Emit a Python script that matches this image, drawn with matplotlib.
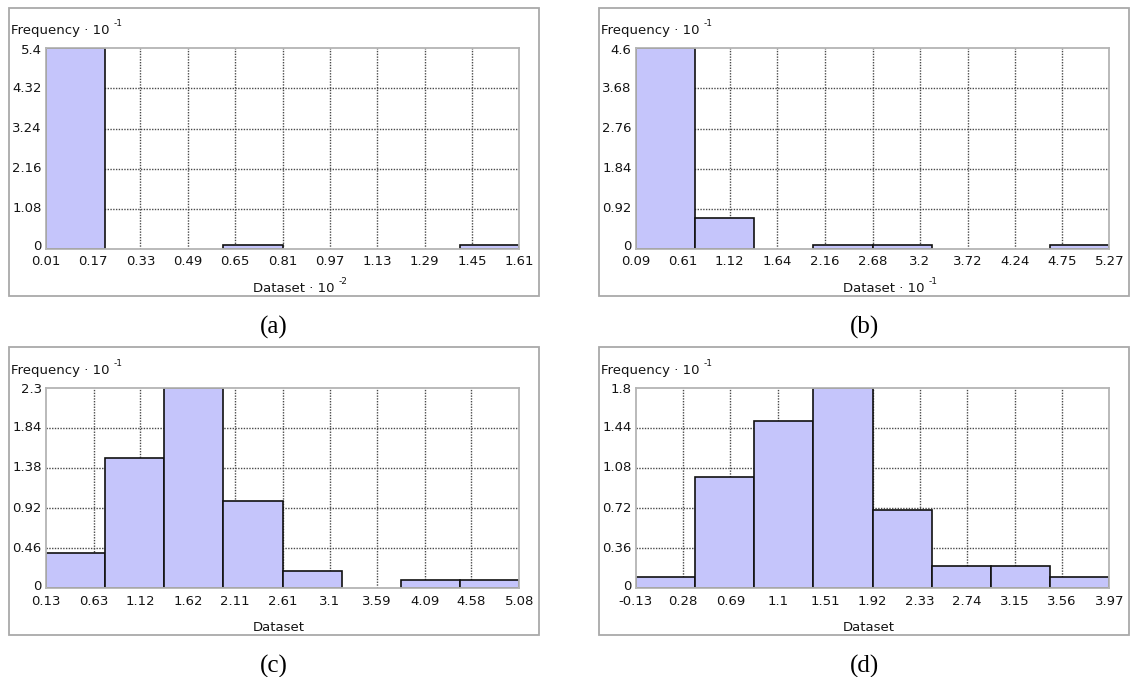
import numpy as np
import matplotlib
matplotlib.use("Agg")
import matplotlib.pyplot as plt
from matplotlib.patches import Rectangle

plt.rcParams["font.family"] = ["DejaVu Sans"]

# x tick values, y tick values and bar heights (frequency x 10^-1), 8 bins each
a_xticks = [0.01, 0.17, 0.33, 0.49, 0.65, 0.81, 0.97, 1.13, 1.29, 1.45, 1.61]
a_yticks = [0, 1.08, 2.16, 3.24, 4.32, 5.4]
a_heights = [5.4, 0, 0, 0.1, 0, 0, 0, 0.1]

b_xticks = [0.09, 0.61, 1.12, 1.64, 2.16, 2.68, 3.2, 3.72, 4.24, 4.75, 5.27]
b_yticks = [0, 0.92, 1.84, 2.76, 3.68, 4.6]
b_heights = [4.6, 0.7, 0, 0.1, 0.1, 0, 0, 0.1]

c_xticks = [0.13, 0.63, 1.12, 1.62, 2.11, 2.61, 3.1, 3.59, 4.09, 4.58, 5.08]
c_yticks = [0, 0.46, 0.92, 1.38, 1.84, 2.3]
c_heights = [0.4, 1.5, 2.3, 1.0, 0.2, 0, 0.1, 0.1]

d_xticks = [-0.13, 0.28, 0.69, 1.1, 1.51, 1.92, 2.33, 2.74, 3.15, 3.56, 3.97]
d_yticks = [0, 0.36, 0.72, 1.08, 1.44, 1.8]
d_heights = [0.1, 1.0, 1.5, 1.8, 0.7, 0.2, 0.2, 0.1]

panel_names = ["(a)", "(b)", "(c)", "(d)"]
x_exponents = ["-2", "-1", None, None]

W, H = 1130, 677
fig = plt.figure(figsize=(W / 100, H / 100), dpi=100)


def fx(px):
    return px / W


def fy(py):
    return 1 - py / H


BAR_COLOR = "#c5c5fb"
TXT = "#141414"
GRID = "#4a4a4a"


def draw_panel(left, top, xticks, yticks, heights, name, xexp):
    right = left + 473.6
    bottom = top + 200.7

    # light grey frame round the whole panel
    fig.patches.append(Rectangle((fx(left - 36.4), fy(top + 247.3)), 529.7 / W, 287.7 / H,
                                 transform=fig.transFigure, fill=False,
                                 edgecolor="#a9a9a9", linewidth=1.3))

    ax = fig.add_axes([fx(left), fy(bottom), (right - left) / W, (bottom - top) / H])
    ax.set_xlim(xticks[0], xticks[-1])
    ax.set_ylim(yticks[0], yticks[-1])

    # interior grid lines
    for xv in xticks[1:-1]:
        ax.axvline(xv, color=GRID, linestyle=(0, (1, 1)), linewidth=1.0, zorder=1)
    for yv in yticks[1:-1]:
        ax.axhline(yv, color=GRID, linestyle=(0, (1, 1)), linewidth=1.0, zorder=1)

    edges = np.linspace(xticks[0], xticks[-1], len(heights) + 1)
    for i, h in enumerate(heights):
        if h <= 0:
            continue
        ax.bar(edges[i], h, width=edges[i + 1] - edges[i], align="edge",
               color=BAR_COLOR, edgecolor="#111111", linewidth=1.2, zorder=3)

    ax.set_xticks(xticks)
    ax.set_xticklabels([f"{v:g}" for v in xticks])
    ax.set_yticks(yticks)
    ax.set_yticklabels([])
    ax.tick_params(length=0, labelsize=9.5, labelcolor=TXT)
    ax.tick_params(axis="x", pad=4.5)
    for sp in ax.spines.values():
        sp.set_color("#b4b4b4")
        sp.set_linewidth(1.3)
        sp.set_zorder(4)

    # y tick labels, end ones nudged inwards like the original
    for j, yv in enumerate(yticks):
        dy = 2 if j == 0 else (-2 if j == len(yticks) - 1 else 0)
        ax.annotate(f"{yv:g}", xy=(0, yv), xycoords=("axes fraction", "data"),
                    xytext=(-4, dy), textcoords="offset pixels", ha="right", va="center",
                    fontsize=9.5, color=TXT, annotation_clip=False)

    # y label top left with exponent
    yl = fig.text(fx(left - 34.7), fy(top - 14), "Frequency \u00b7 10", fontsize=9.5,
                  color=TXT, va="baseline", ha="left")
    ax.annotate("-1", xy=(1, 1), xycoords=yl, xytext=(4, -2), textcoords="offset pixels",
                fontsize=6.5, color=TXT, va="baseline", ha="left",
                annotation_clip=False)

    # x label
    xlab = "Dataset \u00b7 10" if xexp else "Dataset"
    xl = fig.text(fx(left + 207), fy(bottom + 42.5), xlab, fontsize=9.5,
                  color=TXT, va="baseline", ha="left")
    if xexp:
        ax.annotate(xexp, xy=(1, 1), xycoords=xl, xytext=(4, -2), textcoords="offset pixels",
                    fontsize=6.5, color=TXT, va="baseline", ha="left",
                    annotation_clip=False)

    fig.text(fx(left - 36.4 + 264.8), fy(bottom + 78.5), name, fontsize=18,
             family="Liberation Serif", ha="center", va="center", color="black")


lefts = [45.7, 635.7, 45.7, 635.7]
tops = [48.3, 48.3, 387.7, 387.7]
all_xticks = [a_xticks, b_xticks, c_xticks, d_xticks]
all_yticks = [a_yticks, b_yticks, c_yticks, d_yticks]
all_heights = [a_heights, b_heights, c_heights, d_heights]

for k in range(4):
    draw_panel(lefts[k], tops[k], all_xticks[k], all_yticks[k], all_heights[k],
               panel_names[k], x_exponents[k])

fig.savefig("out.png", dpi=100)
